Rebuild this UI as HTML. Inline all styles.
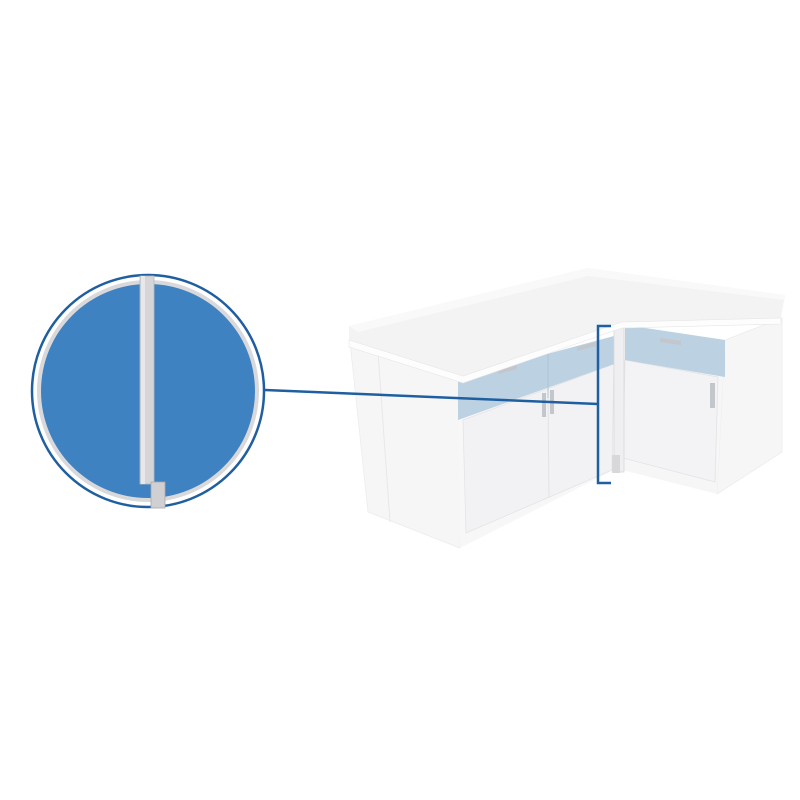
<!DOCTYPE html>
<html><head><meta charset="utf-8"><style>html,body{margin:0;padding:0;background:#fff;}svg{display:block}</style></head>
<body>
<svg width="800" height="800" viewBox="0 0 800 800" xmlns="http://www.w3.org/2000/svg">
<rect width="800" height="800" fill="#fff"/>
<!-- left cabinet side face -->
<polygon points="350,342 463,378 460,548 368,512" fill="#f6f6f7" stroke="#ececee" stroke-width="0.8"/>
<line x1="378" y1="352" x2="390" y2="522" stroke="#e8e8ea"/>
<!-- left run front -->
<polygon points="458,378 614,336 614,470 460,548" fill="#f7f7f8"/>
<polygon points="463,420 614,364 612,470 466,533" fill="#f2f2f4" stroke="#e4e4e6" stroke-width="0.8"/>
<line x1="548" y1="397" x2="549" y2="498" stroke="#e2e2e4"/>
<polygon points="458,378 614,336 614,364 458,420" fill="#bcd1e2"/>
<line x1="548" y1="352" x2="548" y2="398" stroke="#aec4d6"/>
<polygon points="498,370 517,365 517,369 498,374" fill="#c3c6ca"/>
<polygon points="577,347 596,342 596,346 577,351" fill="#c3c6ca"/>
<rect x="542" y="393" width="4" height="24" fill="#c3c6ca"/>
<rect x="550" y="390" width="4" height="24" fill="#c3c6ca"/>
<!-- right cabinet side -->
<polygon points="725,340 782,318 782,452 717,494" fill="#f6f6f7" stroke="#ececee" stroke-width="0.8"/>
<!-- right cabinet front -->
<polygon points="622,324 725,340 717,494 622,470" fill="#f6f6f7"/>
<polygon points="625,360 718,377 715,482 623,458" fill="#f3f3f5" stroke="#e3e3e5" stroke-width="0.8"/>
<polygon points="625,325 725,340 725,377 625,360" fill="#bcd1e2"/>
<polygon points="660,338 681,341 681,345 660,342" fill="#c3c6ca"/>
<rect x="710" y="383" width="5" height="25" fill="#c3c6ca"/>
<!-- filler post -->
<rect x="614" y="322" width="10" height="150" fill="#efeff1" stroke="#d8d8da" stroke-width="0.8"/>
<rect x="612" y="455" width="8" height="18" fill="#d8d8db"/>
<!-- countertop -->
<polygon points="349,326 588,268 785,295 781,318 622,322 463,376 349,340" fill="#f3f3f4"/>
<polygon points="349,326 588,268 785,295 785,300 588,276 358,332" fill="#f9f9fa"/>
<polygon points="349,340 463,376 622,322 781,318 781,324 622,328 463,383 349,347" fill="#fdfdfd" stroke="#e6e6e8" stroke-width="0.6"/>
<!-- connector -->
<polyline points="265,390 598,404" fill="none" stroke="#1f5fa0" stroke-width="2.5"/>
<polyline points="611,326 598,326 598,483 611,483" fill="none" stroke="#1f5fa0" stroke-width="2.5"/>
<!-- magnifier -->
<circle cx="148" cy="391" r="116" fill="#fff" stroke="#1f5fa0" stroke-width="2.5"/>
<circle cx="148" cy="391" r="111" fill="#d9d9db"/>
<circle cx="148" cy="391" r="107" fill="#3f82c2"/>
<rect x="140" y="276" width="14" height="208" fill="#d6d6d8" stroke="#b9b9bc" stroke-width="0.8"/>
<rect x="141" y="276" width="4" height="208" fill="#e8e8ea"/>
<rect x="151" y="482" width="14" height="26" fill="#d0d0d3" stroke="#a9a9ad" stroke-width="0.8"/>
</svg>
</body></html>
